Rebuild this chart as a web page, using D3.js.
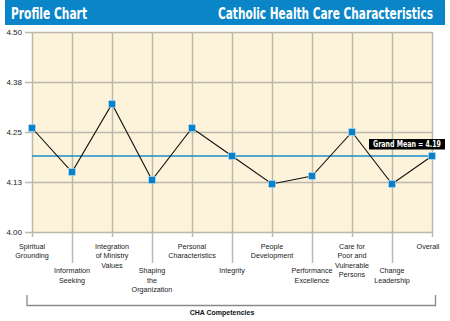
<!DOCTYPE html>
<html lang="en">
<head>
<meta charset="utf-8">
<title>Profile Chart</title>
<script src="https://cdn.jsdelivr.net/npm/d3@7"></script>
<style>
	body { margin: 0; background: #fff; }
	svg { display: block; }
	.tick text { font-family: "Liberation Sans", Arial, sans-serif; fill: #222; }
	.catLabel { font-family: "Liberation Sans", Arial, sans-serif; font-size: 7.2px; fill: #222; }
	.head { font-family: "Liberation Sans Narrow", "DejaVu Sans Condensed", Arial, sans-serif; font-weight: bold; fill: #fff; }
</style>
</head>
<body>
<div class="chart"></div>
<script>
	var w = 450, h = 321;

	// data
	var categories = [
		"Spiritual Grounding", "Information Seeking", "Integration of Ministry Values",
		"Shaping the Organization", "Personal Characteristics", "Integrity",
		"People Development", "Performance Excellence", "Care for Poor and Vulnerable Persons",
		"Change Leadership", "Overall"
	];
	var labelLines = [
		["Spiritual", "Grounding"], ["Information", "Seeking"], ["Integration", "of Ministry", "Values"],
		["Shaping", "the", "Organization"], ["Personal", "Characteristics"], ["Integrity"],
		["People", "Development"], ["Performance", "Excellence"], ["Care for", "Poor and", "Vulnerable", "Persons"],
		["Change", "Leadership"], ["Overall"]
	];
	var scores = [4.26, 4.15, 4.32, 4.13, 4.26, 4.19, 4.12, 4.14, 4.25, 4.12, 4.19];
	var grandMean = 4.19;
	var yTicks = [4.0, 4.125, 4.25, 4.375, 4.5];
	var yTickLabels = ["4.00", "4.13", "4.25", "4.38", "4.50"];

	var plotL = 32, plotR = 432, plotT = 32, plotB = 232;

	var svg = d3.select("div.chart").append("svg")
		.attr("width", w).attr("height", h);

	// header bar
	svg.append("rect").attr("x", 5).attr("y", 0).attr("width", 440).attr("height", 25).attr("fill", "#0a85c7");
	svg.append("text").attr("class", "head").attr("x", 11).attr("y", 18.5)
		.attr("font-size", 15).attr("textLength", 76).attr("lengthAdjust", "spacingAndGlyphs")
		.text("Profile Chart");
	svg.append("text").attr("class", "head").attr("x", 218).attr("y", 18.5)
		.attr("font-size", 15).attr("textLength", 215).attr("lengthAdjust", "spacingAndGlyphs")
		.text("Catholic Health Care Characteristics");

	var x = d3.scalePoint().domain(categories).range([plotL, plotR]);
	var y = d3.scaleLinear().domain([4, 4.5]).range([plotB, plotT]);

	// plot background
	svg.append("rect").attr("x", plotL).attr("y", plotT)
		.attr("width", plotR - plotL).attr("height", plotB - plotT)
		.attr("fill", "#fdf2da");

	// horizontal grid + y labels
	var yAxis = d3.axisLeft(y).tickValues(yTicks)
		.tickFormat(function(d, i) { return yTickLabels[i]; })
		.tickSizeInner(-(plotR - 25)).tickSizeOuter(0).tickPadding(3);
	var gy = svg.append("g").attr("transform", "translate(25,0)").call(yAxis);
	gy.select(".domain").remove();
	gy.selectAll(".tick line").attr("stroke", "#bdb8ac").attr("stroke-width", 1.5);
	gy.selectAll(".tick text").attr("font-size", 8);

	// vertical grid, two lengths so labels alternate
	function catAxis(vals, len) {
		var ax = d3.axisBottom(x).tickValues(vals).tickSizeInner(len).tickSizeOuter(0).tickFormat("");
		var g = svg.append("g").attr("transform", "translate(0," + plotT + ")").call(ax);
		g.select(".domain").remove();
		g.selectAll(".tick line").attr("stroke", "#bdb8ac").attr("stroke-width", 1.5);
	}
	catAxis(categories.filter(function(d, i) { return i % 2 === 0; }), 205);
	catAxis(categories.filter(function(d, i) { return i % 2 === 1; }), 231);

	// category labels
	categories.forEach(function(c, i) {
		var base = i % 2 === 0 ? 248.5 : 273;
		var cx = x(c) - (i === categories.length - 1 ? 4 : 0);
		var t = svg.append("text").attr("class", "catLabel")
			.attr("text-anchor", "middle").attr("x", cx).attr("y", base);
		labelLines[i].forEach(function(line, j) {
			t.append("tspan").attr("x", cx).attr("y", base + j * 9.5).text(line);
		});
	});

	// grand mean line
	svg.append("line").attr("x1", plotL).attr("x2", plotR)
		.attr("y1", y(grandMean)).attr("y2", y(grandMean))
		.attr("stroke", "#1a8ccc").attr("stroke-width", 1.5);

	// series line + markers
	var line = d3.line().x(function(d, i) { return x(categories[i]); }).y(function(d) { return y(d); });
	svg.append("path").datum(scores).attr("d", line)
		.attr("fill", "none").attr("stroke", "#111").attr("stroke-width", 1.1);
	svg.selectAll("rect.pt").data(scores).enter().append("rect")
		.attr("class", "pt")
		.attr("x", function(d, i) { return x(categories[i]) - 3.5; })
		.attr("y", function(d) { return y(d) - 3.5; })
		.attr("width", 7).attr("height", 7)
		.attr("fill", "#0a80c8").attr("stroke", "#bfe3f5").attr("stroke-width", 0.6);

	// grand mean tag
	svg.append("rect").attr("x", 369).attr("y", y(grandMean) - 17).attr("width", 76).attr("height", 10.5).attr("fill", "#000");
	svg.append("text").attr("x", 373).attr("y", y(grandMean) - 9)
		.attr("font-family", "'Liberation Sans Narrow', 'DejaVu Sans Condensed', Arial, sans-serif")
		.attr("font-weight", "bold").attr("font-size", 8.5).attr("fill", "#fff")
		.attr("textLength", 68).attr("lengthAdjust", "spacingAndGlyphs")
		.text("Grand Mean = " + grandMean.toFixed(2));

	// bracket for competencies
	svg.append("path").attr("d", "M27,295V305.5H435.5V295")
		.attr("fill", "none").attr("stroke", "#8a8a8a").attr("stroke-width", 1.3);
	svg.append("text").attr("x", 222).attr("y", 315).attr("text-anchor", "middle")
		.attr("font-family", "'Liberation Sans', Arial, sans-serif").attr("font-weight", "bold")
		.attr("font-size", 7).attr("fill", "#111")
		.text("CHA Competencies");
</script>
</body>
</html>
